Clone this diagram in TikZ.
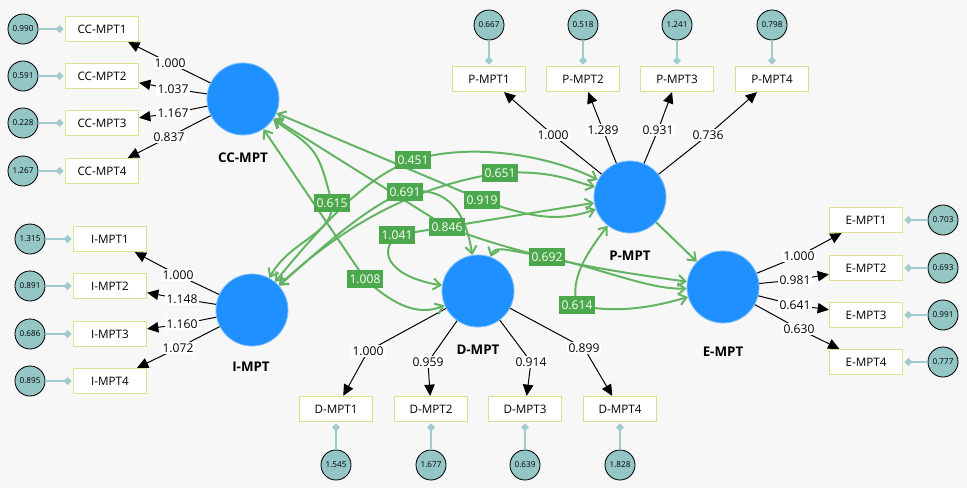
\documentclass[tikz,border=0pt]{standalone}
\usepackage{fontspec}
\setmainfont{Open Sans}
\usepackage{tikz}
\usetikzlibrary{arrows.meta}
\definecolor{latent}{RGB}{30,144,255}
\definecolor{latentedge}{RGB}{125,190,255}
\definecolor{covline}{RGB}{98,180,98}
\definecolor{covfill}{RGB}{76,168,76}
\definecolor{indedge}{RGB}{222,222,140}
\definecolor{errfill}{RGB}{148,198,198}
\definecolor{errline}{RGB}{160,204,208}
\definecolor{canvas}{RGB}{247,247,247}
\tikzstyle{latent}=[circle, fill=latent, draw=latentedge, line width=0.6pt, minimum size=1.8cm, inner sep=0pt]
\tikzstyle{latentname}=[font=\fontsize{9.5}{11}\selectfont\bfseries]
\tikzstyle{indicator}=[rectangle, draw=indedge, line width=0.9pt, fill=white, minimum width=1.825cm, minimum height=0.625cm, inner sep=0pt, font=\fontsize{8.3}{10}\selectfont]
\tikzstyle{errvar}=[circle, draw=black, line width=0.6pt, fill=errfill, minimum size=0.75cm, inner sep=0pt, font=\fontsize{5.8}{7}\selectfont]
\tikzstyle{errarrow}=[draw=errline, line width=1pt, -{Diamond[length=0.2cm,width=0.2cm]}, shorten >=0.03cm]
\tikzstyle{load}=[draw=black, line width=0.7pt, -{Triangle[length=0.28cm,width=0.26cm]}]
\tikzstyle{loadval}=[fill=white, inner sep=1pt, font=\fontsize{8.6}{9}\selectfont]
\tikzstyle{cov}=[draw=covline, line width=1.4pt, <->, >={Straight Barb[length=0.18cm,width=0.28cm]}]
\tikzstyle{covval}=[fill=covfill, text=white, inner xsep=2pt, inner ysep=0pt, minimum height=0.45cm, font=\fontsize{8.6}{9}\selectfont]
\newcommand{\latent}[4]{
	\node[latent] (#1) at (#2) {};
	\node[latentname] (#1name) at (#3) {#4};}
\newcommand{\indicator}[5]{
	\node[indicator] (#1) at (#2) {#3};
	\node[errvar] (#1e) at (#4) {#5};
	\draw[errarrow] (#1e) -- (#1);}
\newcommand{\loading}[5]{
	\coordinate (#3) at (#4);
	\draw[load] (#1) -- (#3) -- (#2);
	\node[loadval] (#3v) at (#3) {#5};}
\begin{document}
\begin{tikzpicture}[x=0.025cm, y=-0.025cm]
\fill[canvas] (0,0) rectangle (967,488);
\latent{CC}{243,99}{243,158}{CC-MPT}
\latent{I}{252,310}{251,367}{I-MPT}
\latent{D}{478,291}{478,350}{D-MPT}
\latent{P}{630,197}{630,256}{P-MPT}
\latent{E}{723,287}{723,352}{E-MPT}
\indicator{CC1}{102,29}{CC-MPT1}{23,29}{0.990}
\indicator{CC2}{102,76}{CC-MPT2}{23,76}{0.591}
\indicator{CC3}{102,123}{CC-MPT3}{23,123}{0.228}
\indicator{CC4}{102,171}{CC-MPT4}{23,171}{1.267}
\indicator{I1}{110,239}{I-MPT1}{30,239}{1.315}
\indicator{I2}{110,286}{I-MPT2}{30,286}{0.891}
\indicator{I3}{110,334}{I-MPT3}{30,334}{0.686}
\indicator{I4}{110,381}{I-MPT4}{30,381}{0.895}
\indicator{P1}{489,79}{P-MPT1}{489,25}{0.667}
\indicator{P2}{583,79}{P-MPT2}{583,25}{0.518}
\indicator{P3}{677,79}{P-MPT3}{677,25}{1.241}
\indicator{P4}{772,79}{P-MPT4}{772,25}{0.798}
\indicator{E1}{866,220}{E-MPT1}{943,220}{0.703}
\indicator{E2}{866,268}{E-MPT2}{943,268}{0.693}
\indicator{E3}{866,315}{E-MPT3}{943,315}{0.991}
\indicator{E4}{866,362}{E-MPT4}{943,362}{0.777}
\indicator{D1}{336,409}{D-MPT1}{336,465}{1.545}
\indicator{D2}{431,409}{D-MPT2}{431,465}{1.677}
\indicator{D3}{525,409}{D-MPT3}{525,465}{0.639}
\indicator{D4}{620,409}{D-MPT4}{620,465}{1.828}
\loading{CC}{CC1}{lcc1}{170,63}{1.000}
\loading{CC}{CC2}{lcc2}{173,89}{1.037}
\loading{CC}{CC3}{lcc3}{173,113}{1.167}
\loading{CC}{CC4}{lcc4}{169,137}{0.837}
\loading{I}{I1}{li1}{178,275}{1.000}
\loading{I}{I2}{li2}{182,299}{1.148}
\loading{I}{I3}{li3}{182,324}{1.160}
\loading{I}{I4}{li4}{178,348}{1.072}
\loading{P}{P1}{lp1}{553,135}{1.000}
\loading{P}{P2}{lp2}{603,130}{1.289}
\loading{P}{P3}{lp3}{658,130}{0.931}
\loading{P}{P4}{lp4}{708,135}{0.736}
\loading{E}{E1}{le1}{799,256}{1.000}
\loading{E}{E2}{le2}{795,280}{0.981}
\loading{E}{E3}{le3}{795,305}{0.641}
\loading{E}{E4}{le4}{799,329}{0.630}
\loading{D}{D1}{ld1}{368,351}{1.000}
\loading{D}{D2}{ld2}{428,362}{0.959}
\loading{D}{D3}{ld3}{531,362}{0.914}
\loading{D}{D4}{ld4}{584,348}{0.899}
\coordinate (c615) at (332,203);
\coordinate (c1008) at (365,279);
\coordinate (c919) at (482,200);
\coordinate (c846) at (447,227);
\coordinate (c1041) at (397,235);
\coordinate (c451) at (413,160);
\coordinate (c651) at (500,173);
\coordinate (c691) at (405,192);
\coordinate (c692) at (547,257);
\coordinate (c614) at (577,305);
\draw[cov] (CC) .. controls (318,150) .. (c615) .. controls (334,235) and (290,240) .. (I);
\draw[cov] (CC) -- (c1008) .. controls (388,300) and (415,318) .. (D);
\draw[cov] (CC) -- (c919) .. controls (530,218) and (560,222) .. (P);
\draw[cov] (CC) -- (c846) .. controls (540,262) and (620,272) .. (E);
\draw[cov] (D) .. controls (395,278) and (375,255) .. (c1041) -- (P);
\draw[cov] (I) .. controls (330,215) and (370,175) .. (c451) .. controls (480,140) and (560,160) .. (P);
\draw[cov] (I) .. controls (350,220) and (420,185) .. (c651) .. controls (550,170) and (570,180) .. (P);
\draw[cov] (I) .. controls (330,240) and (370,205) .. (c691) .. controls (450,185) and (466,215) .. (D);
\draw[cov] (D) .. controls (495,245) and (505,250) .. (c692) .. controls (600,268) and (650,290) .. (E);
\draw[cov] (P) .. controls (585,255) and (570,280) .. (c614) .. controls (620,315) and (660,305) .. (E);
\draw[cov, ->] (P) -- (E);
\node[covval] (v615) at (c615) {0.615};
\node[covval] (v1008) at (c1008) {1.008};
\node[covval] (v919) at (c919) {0.919};
\node[covval] (v846) at (c846) {0.846};
\node[covval] (v1041) at (c1041) {1.041};
\node[covval] (v451) at (c451) {0.451};
\node[covval] (v651) at (c651) {0.651};
\node[covval] (v691) at (c691) {0.691};
\node[covval] (v692) at (c692) {0.692};
\node[covval] (v614) at (c614) {0.614};
\end{tikzpicture}
\end{document}
